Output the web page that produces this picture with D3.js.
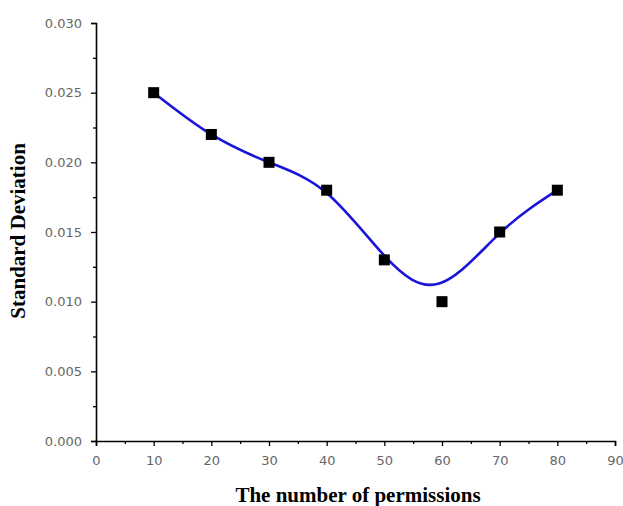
<!DOCTYPE html>
<html><head><meta charset="utf-8">
<script src="https://cdn.jsdelivr.net/npm/d3@7"></script>
<style>body{margin:0;background:#fff}svg{display:block}</style>
</head><body>
<svg id="c" width="623" height="506"></svg>
<script>
// measured points
const permissions = [10, 20, 30, 40, 50, 60, 70, 80];
const stdDev = [0.025, 0.022, 0.020, 0.018, 0.013, 0.010, 0.015, 0.018];
// smoothed fit curve
const fitX = [10, 20, 30, 40, 50, 59.5, 70, 80];
const fitY = [0.0250, 0.0220, 0.0200, 0.0178, 0.0133, 0.0113, 0.0149, 0.0180];
const xTicks = [0, 10, 20, 30, 40, 50, 60, 70, 80, 90];
const yTicks = [0, 0.005, 0.010, 0.015, 0.020, 0.025, 0.030];
const xMinor = [5, 15, 25, 35, 45, 55, 65, 75, 85];
const yMinor = [0.0025, 0.0075, 0.0125, 0.0175, 0.0225, 0.0275];

const svg = d3.select("#c");
const L = 96, R = 615, T = 23, B = 441;
const x = d3.scaleLinear().domain([0, 90]).range([L, R]);
const y = d3.scaleLinear().domain([0, 0.030]).range([B, T]);

const fontTick = "'DejaVu Sans', Verdana, sans-serif";
const fontTitle = "'Liberation Serif', 'Times New Roman', serif";

// y axis
const ya = svg.append("g").attr("transform", `translate(${L},0)`)
  .call(d3.axisLeft(y).tickValues(yTicks).tickFormat(d3.format(".3f")).tickSize(5).tickPadding(9));
ya.selectAll("text").attr("font-family", fontTick).attr("font-size", 13).attr("fill", "#666");
svg.append("g").attr("transform", `translate(${L},0)`)
  .call(d3.axisLeft(y).tickValues(yMinor).tickFormat("").tickSize(3))
  .select(".domain").remove();

// x axis
const xa = svg.append("g").attr("transform", `translate(0,${B})`)
  .call(d3.axisBottom(x).tickValues(xTicks).tickFormat(d3.format("d")).tickSize(5).tickPadding(10));
xa.selectAll("text").attr("font-family", fontTick).attr("font-size", 13).attr("fill", "#666");
svg.append("g").attr("transform", `translate(0,${B})`)
  .call(d3.axisBottom(x).tickValues(xMinor).tickFormat("").tickSize(3))
  .select(".domain").remove();

svg.selectAll(".domain").attr("stroke", "#000").attr("stroke-width", 1.6);
svg.selectAll(".tick line").attr("stroke", "#000").attr("stroke-width", 1.3);

// fit curve
const fit = fitX.map((d, i) => [d, fitY[i]]);
svg.append("path").datum(fit)
  .attr("fill", "none").attr("stroke", "#1a14d8").attr("stroke-width", 2.6)
  .attr("d", d3.line().x(d => x(d[0])).y(d => y(d[1])).curve(d3.curveNatural));

// markers
const s = 11;
svg.selectAll("rect.pt").data(permissions).enter().append("rect")
  .attr("class", "pt")
  .attr("x", d => x(d) - s / 2)
  .attr("y", (d, i) => y(stdDev[i]) - s / 2)
  .attr("width", s).attr("height", s).attr("fill", "#000");

// axis titles
svg.append("text").attr("x", 358).attr("y", 502).attr("text-anchor", "middle")
  .attr("font-family", fontTitle).attr("font-weight", "bold").attr("font-size", 21)
  .text("The number of permissions");
svg.append("text").attr("transform", "translate(25,231) rotate(-90)").attr("text-anchor", "middle")
  .attr("font-family", fontTitle).attr("font-weight", "bold").attr("font-size", 21)
  .text("Standard Deviation");
</script>
</body></html>
